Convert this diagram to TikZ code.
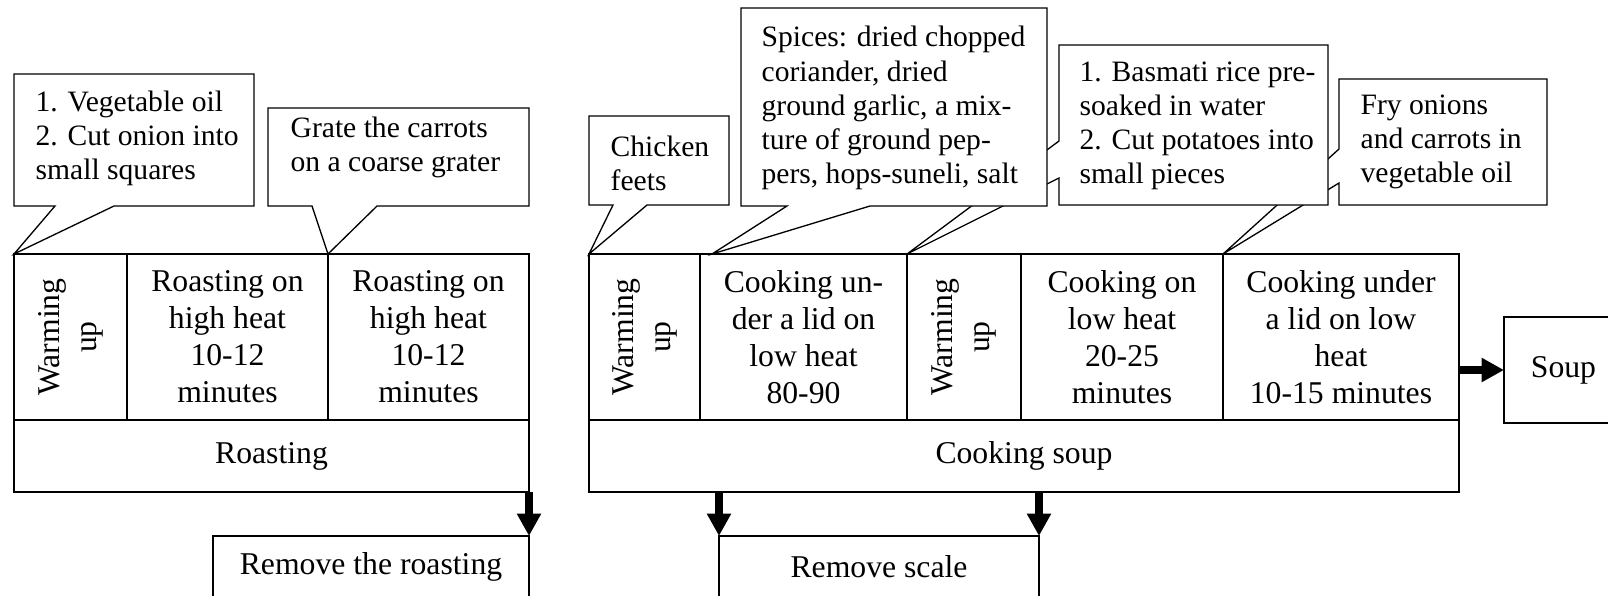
\documentclass[tikz,border=0pt]{standalone}
\usepackage{fontspec}
\setmainfont{Liberation Serif}
\usetikzlibrary{arrows.meta,calc}
\newcommand{\pu}{0.0133cm}
\newcommand{\cellfont}{\fontsize{12}{14}\selectfont}
\newcommand{\notefont}{\fontsize{11.2}{12.9}\selectfont}
\begin{document}
\begin{tikzpicture}[x=\pu,y=-\pu,line width=0.5pt]
%%%%%%%%%%%%%%%%%%%%%%%%%%%%%%%%%%%%%%%%%%%%%%%%%%%%%%%%
% STYLE
\tikzstyle{cell}=[rectangle,draw,anchor=north west,inner sep=0pt,outer sep=0pt,align=center,font=\cellfont,minimum height=166*\pu]
\tikzstyle{vtxt}=[rotate=90,align=center,inner sep=0pt,font=\cellfont]
\tikzstyle{note}=[draw,fill=white,line join=miter]
\tikzstyle{txt}=[anchor=west,align=left,inner sep=0pt,font=\notefont]
\tikzstyle{arr}=[line width=3pt,-{Triangle[length=8.5pt,width=8.7pt]}]

\useasboundingbox (0,0) rectangle (1608,595);
\clip (0,0) rectangle (1608,595);
%%%%%%%%%%%%%%%%%%%%%%%%%%%%%%%%%%%%%%%%%%%%%%%%%%%%%%%%
% NODES
\node[cell,minimum width=113*\pu] (L0) at (14,254) {};
\node[vtxt] (t0) at (L0.center) {Warming\\up};
\node[cell,minimum width=201*\pu] (L1) at (127,254) {Roasting on\\high heat\\10-12\\minutes};
\node[cell,minimum width=201*\pu] (L2) at (328,254) {Roasting on\\high heat\\10-12\\minutes};
\node[cell,minimum width=515*\pu,minimum height=72*\pu] (L3) at (14,420) {Roasting};
\node[cell,minimum width=316*\pu,minimum height=62*\pu] (L4) at (213,536) {Remove the roasting};

\node[cell,minimum width=111*\pu] (R0) at (589,254) {};
\node[vtxt] (t1) at (R0.center) {Warming\\up};
\node[cell,minimum width=207*\pu] (R1) at (700,254) {Cooking un-\\der a lid on\\low heat\\80-90};
\node[cell,minimum width=114*\pu] (R2) at (907,254) {};
\node[vtxt] (t2) at (R2.center) {Warming\\up};
\node[cell,minimum width=202*\pu] (R3) at (1021,254) {Cooking on\\low heat\\20-25\\minutes};
\node[cell,minimum width=236*\pu] (R4) at (1223,254) {Cooking under\\a lid on low\\heat\\10-15 minutes};
\node[cell,minimum width=870*\pu,minimum height=72*\pu] (R5) at (589,420) {Cooking soup};
\node[cell,minimum width=320*\pu,minimum height=62*\pu] (R6) at (719,536) {Remove scale};
\node[cell,minimum width=119*\pu,minimum height=106*\pu] (R7) at (1504,317) {Soup};

%%%%%%%%%%%%%%%%%%%%%%%%%%%%%%%%%%%%%%%%%%%%%%%%%%%%%%%%
% NOTES
\draw[note] (1339,79) -- (1547,79) -- (1547,205) -- (1339,205) -- (1339,183) -- (R4.north west) -- (1339,149) -- cycle;
\node[txt] (t8) at (1360,142) {Fry onions\\and carrots in\\vegetable oil};

\draw[note] (1059,45) -- (1328,45) -- (1328,205) -- (1059,205) -- (1059,178) -- (R2.north west) -- (1059,141) -- cycle;
\node[txt] (t7) at (1079,126) {1. Basmati rice pre-\\soaked in water\\2. Cut potatoes into\\small pieces};

\draw[note] (741,8) -- (1047,8) -- (1047,206) -- (870,206) -- ($(R1.north west)+(12,0)$) -- (787,206) -- (741,206) -- cycle;
\node[txt] (t6) at (761,108) {Spices: dried chopped\\coriander, dried\\ground garlic, a mix-\\ture of ground pep-\\pers, hops-suneli, salt};

\draw[note] (589,116) -- (729,116) -- (729,205) -- (647,205) -- (R0.north west) -- (613,205) -- (589,205) -- cycle;
\node[txt] (t5) at (610,163) {Chicken\\feets};

\draw[note] (14,74) -- (254,74) -- (254,206) -- (114,206) -- (L0.north west) -- (55,206) -- (14,206) -- cycle;
\node[txt] (t3) at (35,138) {1. Vegetable oil\\2. Cut onion into\\small squares};

\draw[note] (268,108) -- (529,108) -- (529,206) -- (377,206) -- (L2.north west) -- (312,206) -- (268,206) -- cycle;
\node[txt] (t4) at (290,147) {Grate the carrots\\on a coarse grater};

%%%%%%%%%%%%%%%%%%%%%%%%%%%%%%%%%%%%%%%%%%%%%%%%%%%%%%%%
% LINKS
\draw[arr] (L3.south east) -- (L4.north east);
\draw[arr] (R6.north west |- R5.south) -- (R6.north west);
\draw[arr] (R6.north east |- R5.south) -- (R6.north east);
\draw[arr] (R4.east |- R7.west) -- (R7.west);

\end{tikzpicture}
\end{document}
